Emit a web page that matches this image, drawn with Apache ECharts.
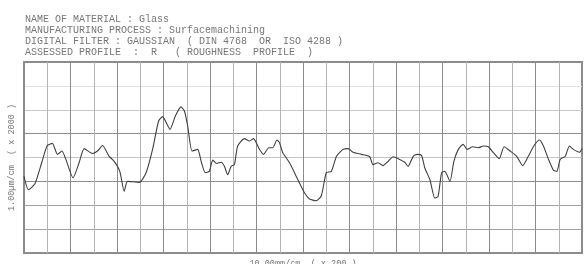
<!DOCTYPE html>
<html>
<head>
<meta charset="utf-8">
<script src="https://cdn.jsdelivr.net/npm/echarts@6/dist/echarts.min.js"></script>
<style>
  html, body { margin: 0; padding: 0; background: #fff; }
  #chart { width: 584px; height: 264px; }
</style>
</head>
<body>
<div id="chart"></div>
<script>
// header lines printed above the trace
const headerLines = [
  'NAME OF MATERIAL : Glass',
  'MANUFACTURING PROCESS : Surfacemachining',
  'DIGITAL FILTER : GAUSSIAN  ( DIN 4768  OR  ISO 4288 )',
  'ASSESSED PROFILE  :  R   ( ROUGHNESS  PROFILE  )'
]
const xName = '10.00mm/cm  ( x 200 )'
const yName = '1.00\u00b5m/cm  ( x 2000 )'

// chart paper: 24 x 8 divisions
const xDivisions = 24
const yDivisions = 8

// roughness profile, [x division, y division]
const profile = [
  [0.00, 3.21], [0.19, 2.65], [0.47, 2.90], [0.76, 3.78], [1.00, 4.50],
  [1.22, 4.59], [1.44, 4.13], [1.63, 4.27], [1.80, 3.92], [2.11, 3.15],
  [2.37, 3.78], [2.59, 4.37], [2.94, 4.17], [3.16, 4.27], [3.38, 4.50],
  [3.66, 4.05], [3.88, 3.84], [4.12, 3.42], [4.31, 2.58], [4.45, 3.00],
  [4.96, 2.96], [5.25, 3.36], [5.53, 4.34], [5.79, 5.53], [5.96, 5.71],
  [6.28, 5.18], [6.51, 5.74], [6.75, 6.12], [6.90, 5.95], [7.04, 5.32],
  [7.23, 4.27], [7.47, 4.34], [7.62, 3.84], [7.80, 3.36], [7.97, 3.42],
  [8.12, 3.89], [8.29, 3.75], [8.48, 3.80], [8.62, 3.63], [8.76, 3.28],
  [8.91, 3.63], [9.05, 3.70], [9.19, 4.48], [9.48, 4.79], [9.70, 4.69],
  [9.87, 4.79], [10.13, 4.34], [10.30, 4.13], [10.53, 4.41], [10.70, 4.41],
  [10.88, 4.73], [10.99, 4.62], [11.13, 4.20], [11.42, 3.78], [11.78, 3.07],
  [12.07, 2.51], [12.28, 2.26], [12.57, 2.19], [12.79, 2.40], [13.00, 3.36],
  [13.22, 3.42], [13.44, 4.05], [13.72, 4.34], [13.94, 4.37], [14.15, 4.22],
  [14.51, 4.13], [14.87, 4.03], [15.01, 3.70], [15.23, 3.78], [15.44, 3.66],
  [15.66, 3.84], [15.88, 4.03], [16.16, 3.92], [16.38, 3.80], [16.52, 3.63],
  [16.74, 4.05], [16.91, 4.13], [17.10, 4.08], [17.24, 3.56], [17.46, 3.07],
  [17.67, 2.30], [17.81, 2.37], [17.96, 3.36], [18.10, 3.42], [18.32, 3.00],
  [18.49, 3.84], [18.68, 4.34], [18.89, 4.55], [19.06, 4.34], [19.30, 4.45],
  [19.54, 4.41], [19.75, 4.48], [19.97, 4.45], [20.19, 4.20], [20.44, 3.95],
  [20.65, 4.45], [20.91, 4.27], [21.19, 4.05], [21.45, 3.66], [21.69, 4.05],
  [21.94, 4.50], [22.17, 4.73], [22.34, 4.48], [22.56, 3.92], [22.77, 3.47],
  [22.92, 3.42], [23.06, 3.92], [23.28, 4.05], [23.46, 4.48], [23.63, 4.34],
  [23.89, 4.22], [24.00, 4.37]
]

const mono = '"Liberation Mono", "DejaVu Sans Mono", monospace'

const chart = echarts.init(document.getElementById('chart'))
chart.setOption({
  animation: false,
  title: {
    text: headerLines.join('\n'),
    left: 20,
    top: 9,
    textStyle: {
      fontFamily: mono,
      fontSize: 10,
      fontWeight: 'normal',
      color: '#777',
      lineHeight: 11
    }
  },
  grid: {
    left: 24,
    right: 2,
    top: 62,
    bottom: 11,
    outerBoundsMode: 'none',
    containLabel: false,
    show: true,
    borderColor: '#8c8c8c',
    borderWidth: 2
  },
  xAxis: {
    type: 'value',
    min: 0,
    max: xDivisions,
    interval: 1,
    name: xName,
    nameLocation: 'middle',
    nameGap: 6,
    nameTextStyle: { fontFamily: mono, fontSize: 8.5, color: '#777' },
    axisLine: { show: false },
    axisTick: { show: false },
    axisLabel: { show: false },
    splitLine: {
      show: true,
      lineStyle: { color: ['#8c8c8c', '#b4b4b4'], width: 1 }
    }
  },
  yAxis: {
    type: 'value',
    min: 0,
    max: yDivisions,
    interval: 1,
    name: yName,
    nameLocation: 'middle',
    nameRotate: 90,
    nameGap: 8,
    nameTextStyle: { fontFamily: mono, fontSize: 8.5, color: '#777' },
    axisLine: { show: false },
    axisTick: { show: false },
    axisLabel: { show: false },
    splitLine: {
      show: true,
      lineStyle: {
        // bottom -> top
        color: ['#8c8c8c', '#a0a0a0', '#a0a0a0', '#8c8c8c', '#c4c4c4', '#8c8c8c', '#c8c8c8', '#e0e0e0', '#8c8c8c'],
        width: 1
      }
    }
  },
  series: [{
    type: 'line',
    data: profile,
    showSymbol: false,
    smooth: 0.2,
    lineStyle: { color: '#404040', width: 1.1 }
  }]
})
</script>
</body>
</html>
